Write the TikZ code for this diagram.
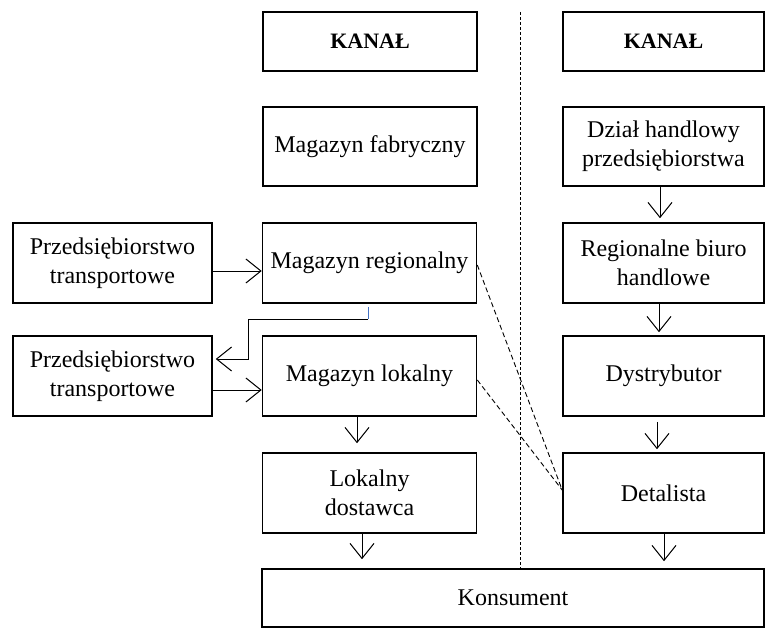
\documentclass[tikz,border=0pt]{standalone}
\usepackage{fontspec}
\setmainfont{Liberation Serif}
\usetikzlibrary{arrows.meta}
\begin{document}
\begin{tikzpicture}[x=1pt,y=-1pt,
  box/.style={draw,line width=1.6pt,rectangle,inner sep=2pt,align=center,
    font=\fontsize{24}{29}\selectfont},
  lbox/.style={box,minimum width=214pt},
  rbox/.style={box,minimum width=201pt},
  sbox/.style={box,minimum width=199pt},
  arr/.style={line width=0.9pt,-{Straight Barb[length=15pt,width=24pt,line width=1pt]}},
  dline/.style={line width=0.9pt,dash pattern=on 5pt off 3pt},
  sep/.style={line width=0.9pt,dash pattern=on 3pt off 2pt}]
\useasboundingbox (0,0) rectangle (766,628);

% column headers
\node[lbox,minimum height=59pt,font=\fontsize{22}{28}\selectfont\bfseries] (kanL) at (370,41.5) {KANAŁ};
\node[rbox,minimum height=59pt,font=\fontsize{22}{28}\selectfont\bfseries] (kanR) at (663.5,41.5) {KANAŁ};

% left channel
\node[lbox,minimum height=79pt] (mf) at (370,146.5) {Magazyn fabryczny};
\node[lbox,minimum height=80pt] (mr) at (369.5,263) {Magazyn regionalny};
\node[lbox,minimum height=80pt] (ml) at (369.5,376) {Magazyn lokalny};
\node[lbox,minimum height=80pt] (ld) at (369.5,493) {Lokalny\\dostawca};
\node[sbox,minimum height=80pt] (p1) at (112.5,263) {Przedsiębiorstwo\\transportowe};
\node[sbox,minimum height=80pt] (p2) at (112.5,376) {Przedsiębiorstwo\\transportowe};

% right channel
\node[rbox,minimum height=79pt] (dh) at (663.5,146.5) {Dział handlowy\\przedsiębiorstwa};
\node[rbox,minimum height=80pt] (rb) at (663.5,263) {Regionalne biuro\\handlowe};
\node[rbox,minimum height=80pt] (dy) at (663.5,376) {Dystrybutor};
\node[rbox,minimum height=80pt] (de) at (663.5,493) {Detalista};

% consumer
\node[box,minimum width=502pt,minimum height=58pt] (ko) at (513,598) {Konsument};

% separator between channels
\coordinate (septop) at (520,12);
\draw[sep] (septop) -- (septop |- ko.north);

% transport links
\draw[arr] ([yshift=-8pt]p1.east) -- ([yshift=-8pt]mr.west);
\draw[arr] ([yshift=-14pt]p2.east) -- ([yshift=-14pt]ml.west);
\coordinate (k0) at (368,307);
\coordinate (k1) at (368,319);
\coordinate (k2) at (248,319);
\coordinate (k3) at (248,359);
\draw[line width=0.9pt,color={rgb,255:red,68;green,114;blue,196}] (k0) -- (k1);
\draw[arr,shorten >=3pt] (k1) -- (k2) -- (k3) -- (p2.east |- k3);

% flows down the left channel
\draw[arr,shorten >=9pt] ([xshift=-12.5pt]ml.south) -- ([xshift=-12.5pt]ld.north);
\draw[arr,shorten >=9pt] ([xshift=-7.5pt]ld.south) -- ([xshift=-7.5pt]ld.south |- ko.north);

% flows down the right channel
\draw[arr,shorten >=4pt] ([xshift=-3.5pt]dh.south) -- ([xshift=-3.5pt]rb.north);
\draw[arr,shorten >=3pt] ([xshift=-4.5pt]rb.south) -- ([xshift=-4.5pt]dy.north);
\draw[arr,shorten <=5pt,shorten >=3pt] ([xshift=-6.5pt]dy.south) -- ([xshift=-6.5pt]de.north);
\draw[arr,shorten >=7pt] ([xshift=0.5pt]de.south) -- ([xshift=0.5pt]de.south |- ko.north);

% dashed links to the retailer
\coordinate (dein) at ([yshift=3pt]de.west);
\draw[dline] ([yshift=-2pt]mr.east) -- (dein);
\draw[dline] ([yshift=-4pt]ml.east) -- (dein);
\end{tikzpicture}
\end{document}
